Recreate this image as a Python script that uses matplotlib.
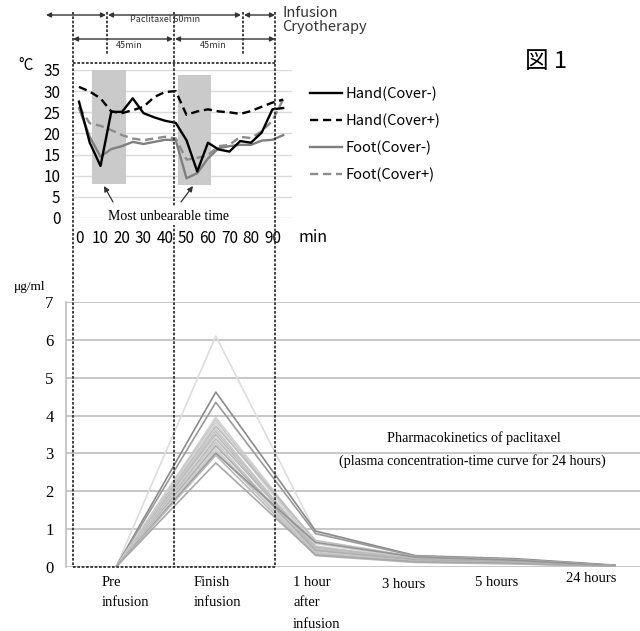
import matplotlib
matplotlib.use('Agg')
import matplotlib.pyplot as plt
from matplotlib.patches import Rectangle

# --- skin temperature during infusion (top panel) ---
minutes = [0, 5, 10, 15, 20, 25, 30, 35, 40, 45, 50, 55, 60, 65, 70, 75, 80, 85, 90, 95]
hand_cover_minus = [27.5, 17.8, 12.3, 25.1, 25.1, 28.3, 24.8, 23.8, 23.0, 22.5, 18.4, 11.0, 17.8, 16.2, 15.7, 18.2, 17.8, 20.2, 25.7, 26.0]
hand_cover_plus = [31.0, 29.9, 28.3, 25.2, 24.8, 25.5, 26.3, 28.6, 29.8, 30.0, 24.4, 25.2, 25.7, 25.2, 25.0, 24.6, 25.3, 26.3, 27.3, 28.0]
foot_cover_minus = [26.0, 19.2, 14.5, 16.3, 17.0, 18.0, 17.5, 18.0, 18.5, 18.4, 9.4, 10.6, 14.1, 16.5, 17.0, 17.3, 17.3, 18.3, 18.5, 19.6]
foot_cover_plus = [26.3, 22.4, 21.8, 20.8, 19.6, 18.8, 18.4, 18.8, 19.2, 18.8, 13.8, 14.2, 14.9, 17.0, 17.3, 19.2, 18.9, 20.5, 23.0, 28.1]
shade_x = [(6, 22), (46, 61.5)]
shade_y = [(8, 35), (7.7, 33.7)]

# --- paclitaxel plasma concentration (bottom panel), one value per patient ---
timepoints = ['Pre\ninfusion', 'Finish\ninfusion', '1 hour\nafter\ninfusion', '3 hours', '5 hours', '24 hours']
conc_pre = [0] * 20
conc_finish = [6.1, 4.62, 4.35, 3.95, 3.88, 3.8, 3.72, 3.65, 3.58, 3.5, 3.45, 3.38, 3.3, 3.25, 3.2, 3.12, 3.05, 3.0, 2.95, 2.75]
conc_1h = [0.92, 0.95, 0.88, 0.62, 0.55, 0.5, 0.7, 0.45, 0.48, 0.42, 0.4, 0.52, 0.38, 0.35, 0.44, 0.33, 0.36, 0.65, 0.3, 0.32]
conc_3h = [0.28, 0.3, 0.29, 0.22, 0.2, 0.24, 0.27, 0.18, 0.2, 0.17, 0.15, 0.22, 0.16, 0.14, 0.19, 0.13, 0.15, 0.26, 0.12, 0.14]
conc_5h = [0.2, 0.22, 0.2, 0.15, 0.14, 0.16, 0.19, 0.12, 0.14, 0.12, 0.1, 0.15, 0.11, 0.1, 0.13, 0.09, 0.1, 0.18, 0.08, 0.1]
conc_24h = [0.04, 0.05, 0.04, 0.03, 0.02, 0.03, 0.03, 0.02, 0.02, 0.02, 0.01, 0.03, 0.02, 0.01, 0.02, 0.01, 0.02, 0.03, 0.01, 0.02]

line_grays = ['#dddddd', '#8a8a8a', '#9a9a9a', '#d0d0d0', '#c8c8c8', '#d4d4d4', '#bdbdbd', '#cccccc',
              '#c2c2c2', '#b5b5b5', '#d6d6d6', '#bbbbbb', '#c6c6c6', '#d2d2d2', '#b0b0b0', '#cfcfcf',
              '#c4c4c4', '#949494', '#bababa', '#a8a8a8']

W, H = 640, 631
fig = plt.figure(figsize=(6.4, 6.31), dpi=100)
sans = ['Noto Sans CJK JP', 'DejaVu Sans']
serif = ['Liberation Serif', 'DejaVu Serif']


def box(l, t, r, b):
    return [l / W, 1 - b / H, (r - l) / W, (b - t) / H]


# top panel
ax1 = fig.add_axes(box(73, 70, 292, 218))
for (x0, x1), (y0, y1) in zip(shade_x, shade_y):
    ax1.add_patch(Rectangle((x0, y0), x1 - x0, y1 - y0, color='#cacaca', zorder=1, lw=0))
ax1.plot(minutes, hand_cover_minus, color='black', lw=1.7, label='Hand(Cover-)', zorder=4)
ax1.plot(minutes, hand_cover_plus, color='black', lw=1.7, dashes=(3.5, 2), label='Hand(Cover+)', zorder=4)
ax1.plot(minutes, foot_cover_minus, color='#7f7f7f', lw=1.7, label='Foot(Cover-)', zorder=3)
ax1.plot(minutes, foot_cover_plus, color='#8c8c8c', lw=1.7, dashes=(3.5, 2), label='Foot(Cover+)', zorder=3)
ax1.set_xlim(-2.8, 99.1)
ax1.set_ylim(0, 35)
ax1.set_yticks(range(0, 36, 5))
ax1.set_xticks(range(0, 91, 10))
ax1.grid(axis='y', color='#dadada', lw=1)
ax1.set_axisbelow(True)
for s in ax1.spines.values():
    s.set_visible(False)
ax1.tick_params(length=0, pad=9, labelsize=11)
for lab in ax1.get_xticklabels() + ax1.get_yticklabels():
    lab.set_family(sans)
ax1.patch.set_alpha(0)
fig.legend(loc='upper left', bbox_to_anchor=(310 / W, 1 - 87 / H), frameon=False,
           prop={'family': sans, 'size': 10.5}, handlelength=2.2, handletextpad=0.25,
           labelspacing=0.85, borderpad=0, borderaxespad=0)

# bottom panel
ax2 = fig.add_axes(box(66, 302, 640, 567))
xs = range(len(timepoints))
for i, c in enumerate(line_grays):
    vals = [conc_pre[i], conc_finish[i], conc_1h[i], conc_3h[i], conc_5h[i], conc_24h[i]]
    ax2.plot(xs, vals, color=c, lw=1.2, zorder=3)
ax2.set_xlim(-0.501, 5.25)
ax2.set_ylim(0, 7)
ax2.set_yticks(range(0, 8))
ax2.set_xticks([])
ax2.grid(axis='y', color='#bdbdbd', lw=1.2)
ax2.set_axisbelow(True)
for k in ['top', 'right', 'bottom']:
    ax2.spines[k].set_visible(False)
ax2.spines['left'].set_color('#bdbdbd')
ax2.spines['left'].set_linewidth(1.2)
ax2.tick_params(length=0, pad=9, labelsize=12)
for lab in ax2.get_yticklabels():
    lab.set_family(serif)
ax2.patch.set_alpha(0)

# overlay in pixel coordinates for annotations
ov = fig.add_axes([0, 0, 1, 1], zorder=10)
ov.set_xlim(0, W)
ov.set_ylim(H, 0)
ov.axis('off')
dot = dict(color='#222222', lw=1.2, linestyle=(0, (1.6, 1.0)))
for x, y1 in [(73, 567), (107, 55), (174, 567), (243, 55), (275, 567)]:
    ov.plot([x, x], [12, y1], **dot)
for y in [63, 567]:
    ov.plot([73, 275], [y, y], **dot)

arr = dict(arrowstyle='<|-|>', color='#333333', lw=1.0, mutation_scale=7, shrinkA=0, shrinkB=0)
for x0, x1, y in [(46, 106, 15), (108, 241, 15), (244, 275, 15), (73, 173, 39), (175, 275, 39)]:
    ov.annotate('', xy=(x1, y), xytext=(x0, y), arrowprops=arr)
ov.text(165, 20, 'Paclitaxel 60min', ha='center', va='center', fontsize=6.5, family=sans, color='#333333')
ov.text(129, 46, '45min', ha='center', va='center', fontsize=6.5, family=sans, color='#333333')
ov.text(213, 46, '45min', ha='center', va='center', fontsize=6.5, family=sans, color='#333333')
ov.text(282, 20, 'Infusion\nCryotherapy', ha='left', va='center', fontsize=10.5, family=sans,
        color='#333333', linespacing=0.95)
ov.text(546, 62, '図 1', ha='center', va='center', fontsize=17, family=sans)
ov.text(26, 66, '°C', ha='center', va='center', fontsize=11, family=sans)
ov.text(313, 237, 'min', ha='center', va='center', fontsize=11.5, family=sans)

ov.text(168, 216, 'Most unbearable time', ha='center', va='center', fontsize=10, family=serif,
        bbox=dict(facecolor='white', edgecolor='none', pad=2), zorder=12)
ar2 = dict(arrowstyle='-|>', color='#333333', lw=0.9, mutation_scale=8, shrinkA=0, shrinkB=0)
ov.annotate('', xy=(104, 186), xytext=(113, 202), arrowprops=ar2)
ov.annotate('', xy=(193, 186), xytext=(181, 202), arrowprops=ar2)

ov.text(30, 287, 'μg/ml', ha='center', va='center', fontsize=9.5, family=serif)
ov.text(474, 438, 'Pharmacokinetics of paclitaxel', ha='center', va='center', fontsize=10.2, family=serif)
ov.text(472, 461, '(plasma concentration-time curve for 24 hours)', ha='center', va='center',
        fontsize=10.2, family=serif)

label_pos = [(102, 582), (194, 582), (293, 582), (382, 584), (475, 582), (566, 579)]
for name, (lx, ly) in zip(timepoints, label_pos):
    for j, part in enumerate(name.split('\n')):
        ov.text(lx, ly + 21 * j, part, ha='left', va='center', fontsize=10.5, family=serif)

fig.savefig('out.png', dpi=100)
